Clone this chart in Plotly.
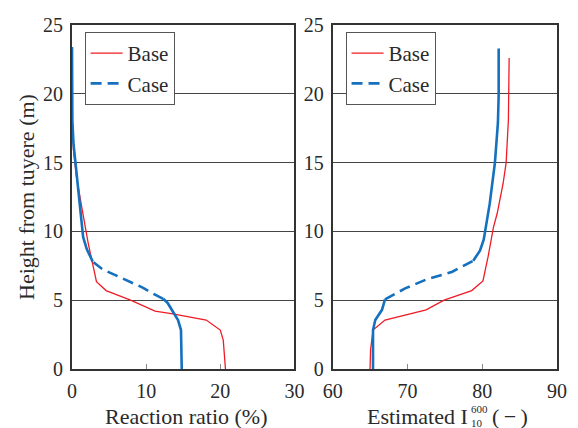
import plotly.graph_objects as go
from plotly.subplots import make_subplots

# ---- data ----
left_base_x = [20.7, 20.6, 20.4, 20.0, 18.1, 13.6, 11.2, 7.9, 4.6, 3.3, 2.2, 1.3, 0.6, 0.2, 0.05, 0.0, 0.0]
left_base_y = [0.0, 1.0, 2.1, 2.83, 3.56, 4.0, 4.2, 5.0, 5.7, 6.35, 9.1, 11.8, 14.0, 15.9, 17.9, 20.0, 22.6]

left_case_x = [14.8, 14.75, 14.7, 14.3, 13.6, 12.9, 12.3, 11.2, 9.6, 6.8, 4.1, 2.8, 2.0, 1.5, 1.1, 0.6, 0.2, 0.05, 0.0, 0.0]
left_case_y = [0.0, 1.5, 2.83, 3.56, 4.2, 4.8, 5.1, 5.4, 5.9, 6.6, 7.25, 7.8, 8.7, 9.6, 11.6, 14.0, 16.4, 18.0, 20.0, 23.4]

right_base_x = [65.0, 65.07, 65.4, 67.0, 72.5, 74.9, 78.6, 80.1, 80.8, 81.5, 82.0, 82.8, 83.2, 83.5, 83.6]
right_base_y = [0.0, 1.38, 2.83, 3.56, 4.3, 5.0, 5.7, 6.4, 8.2, 10.3, 11.3, 13.5, 15.0, 18.1, 22.6]

right_case_x = [65.4, 65.4, 65.7, 66.6, 67.0, 69.7, 72.5, 76.0, 78.8, 79.7, 80.2, 81.0, 81.7, 82.1, 82.2, 82.2]
right_case_y = [0.0, 2.83, 3.56, 4.3, 5.06, 5.86, 6.5, 7.07, 7.87, 8.6, 9.4, 12.0, 15.0, 17.9, 19.9, 23.3]

# height range where the Case curve is drawn dashed
left_dash_range = (5.1, 7.8)
right_dash_range = (5.06, 7.87)

x_ticks_left = [0, 10, 20, 30]
x_ticks_right = [60, 70, 80, 90]
y_ticks = [0, 5, 10, 15, 20, 25]

RED = "#ee1c25"
BLUE = "#1570be"
FONT = "Liberation Serif"
TXT = "#2a2a2a"
DASH = "11px,6px"


def split(xs, ys, lo, hi):
    bot = [(x, y) for x, y in zip(xs, ys) if y <= lo]
    mid = [(x, y) for x, y in zip(xs, ys) if lo <= y <= hi]
    top = [(x, y) for x, y in zip(xs, ys) if y >= hi]
    return bot, mid, top


fig = make_subplots(rows=1, cols=2, horizontal_spacing=0.08)

for col, (bx, by, cx, cy, rng, leg) in enumerate([
    (left_base_x, left_base_y, left_case_x, left_case_y, left_dash_range, "legend"),
    (right_base_x, right_base_y, right_case_x, right_case_y, right_dash_range, "legend2"),
], start=1):
    fig.add_trace(go.Scatter(x=bx, y=by, mode="lines", name="Base",
                             line=dict(color=RED, width=1.3), legend=leg), row=1, col=col)
    bot, mid, top = split(cx, cy, *rng)
    for seg, dash, show in [(mid, DASH, True), (bot, "solid", False), (top, "solid", False)]:
        fig.add_trace(go.Scatter(x=[p[0] for p in seg], y=[p[1] for p in seg], mode="lines",
                                 name="Case", showlegend=show, legend=leg,
                                 line=dict(color=BLUE, width=2.6, dash=dash)), row=1, col=col)

axis_common = dict(showline=True, linecolor="#333333", linewidth=2, mirror=True,
                   tickfont=dict(family=FONT, size=20, color=TXT), zeroline=False)

fig.update_xaxes(**axis_common, showgrid=False, ticks="inside", ticklen=5, tickcolor="#888888",
                 tickwidth=1, ticklabelstandoff=3)
fig.update_xaxes(range=[0, 30], tickvals=x_ticks_left, row=1, col=1)
fig.update_xaxes(range=[60, 90], tickvals=x_ticks_right, row=1, col=2)
fig.update_yaxes(**axis_common, range=[0, 25], tickvals=y_ticks, showgrid=True,
                 gridcolor="#444444", gridwidth=1, ticks="", ticklabelstandoff=3)

fig.update_layout(xaxis=dict(domain=[0, 0.4586]), xaxis2=dict(domain=[0.5374, 1.0]))

title_font = dict(family=FONT, size=22, color=TXT)
small_font = dict(family=FONT, size=11, color=TXT)
ty = -0.1395

fig.add_annotation(xref="paper", yref="paper", x=0.2354, y=ty, xanchor="center", yanchor="middle",
                   text="Reaction ratio (%)", showarrow=False, font=title_font, borderpad=0)
fig.add_annotation(xref="paper", yref="paper", x=-0.0949, y=0.5, xanchor="center", yanchor="middle",
                   text="Height from tuyere (m)", textangle=-90, showarrow=False, font=title_font)

# right x-axis title with stacked super/subscript
fig.add_annotation(xref="paper", yref="paper", x=0.8182, y=ty, xanchor="right", yanchor="middle",
                   text="Estimated I", showarrow=False, font=title_font, borderpad=0)
fig.add_annotation(xref="paper", yref="paper", x=0.8202, y=-0.1352, xanchor="left", yanchor="middle",
                   text="600<br>10", align="left", showarrow=False, font=small_font, borderpad=0)
fig.add_annotation(xref="paper", yref="paper", x=0.864, y=ty, xanchor="left", yanchor="middle",
                   text="(\u2009\u2212\u2009)", showarrow=False, font=title_font, borderpad=0)

legend_style = dict(font=dict(family=FONT, size=21, color=TXT), bgcolor="white",
                    bordercolor="#555555", borderwidth=1, xanchor="left", yanchor="top",
                    tracegroupgap=0, itemwidth=32)
fig.update_layout(
    legend=dict(x=0.026, y=0.98, **legend_style),
    legend2=dict(x=0.564, y=0.98, **legend_style),
    width=578, height=428,
    margin=dict(l=72, r=11, t=25, b=59),
    paper_bgcolor="white", plot_bgcolor="white",
    showlegend=True,
)

fig.write_html("out.html")
